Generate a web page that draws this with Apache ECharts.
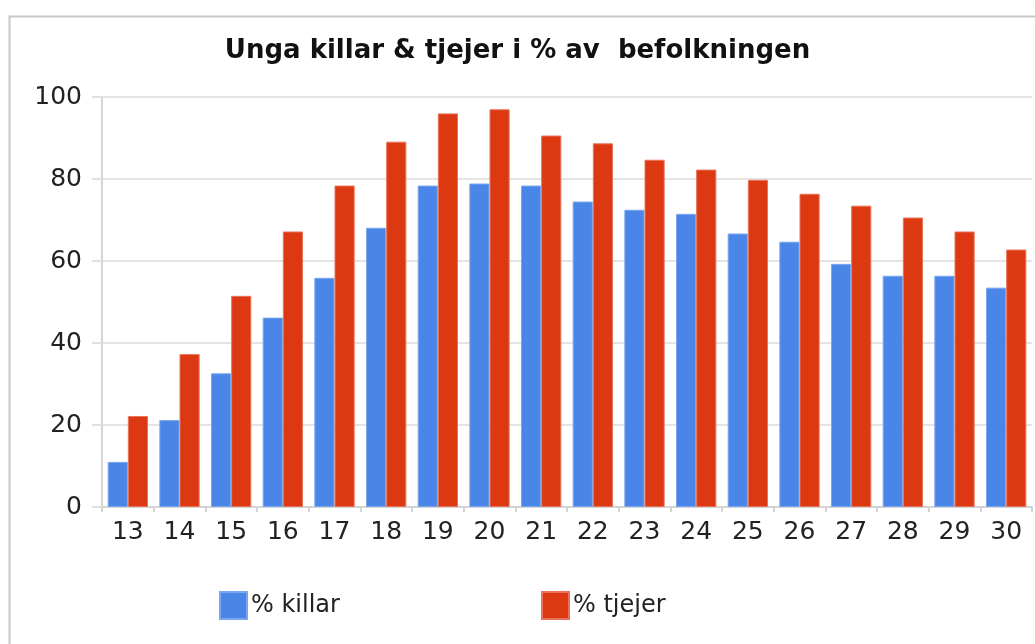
<!DOCTYPE html>
<html>
<head>
<meta charset="utf-8">
<script src="https://cdn.jsdelivr.net/npm/echarts@6/dist/echarts.min.js"></script>
<style>
html,body{margin:0;padding:0;background:#fff;}
#chart{width:1035px;height:644px;}
</style>
</head>
<body>
<div id="chart"></div>
<script>
const titleText = 'Unga killar & tjejer i % av  befolkningen';
const categories = ['13','14','15','16','17','18','19','20','21','22','23','24','25','26','27','28','29','30'];
const killar = [11, 21.2, 32.6, 46.2, 55.9, 68.1, 78.4, 78.9, 78.4, 74.5, 72.5, 71.5, 66.7, 64.7, 59.3, 56.4, 56.4, 53.5];
const tjejer = [22.2, 37.3, 51.5, 67.2, 78.4, 89.1, 96.0, 97.0, 90.6, 88.7, 84.7, 82.3, 79.8, 76.4, 73.5, 70.6, 67.2, 62.8];
const seriesNames = ['% killar', '% tjejer'];

const FONT = 'DejaVu Sans';
const chart = echarts.init(document.getElementById('chart'), null, {renderer: 'canvas'});
chart.setOption({
  animation: false,
  backgroundColor: '#fff',
  graphic: [{
    type: 'rect', left: 7, top: 14, z: -1,
    shape: {width: 1200, height: 800},
    style: {fill: 'none', stroke: '#c8c8c8', lineWidth: 2}
  }],
  title: {
    text: titleText,
    left: 'center',
    top: 33,
    textStyle: {fontFamily: FONT, fontSize: 26, fontWeight: 'bold', color: '#111'}
  },
  legend: [{
    data: [seriesNames[0]],
    icon: 'rect',
    left: 214, top: 586,
    itemWidth: 27, itemHeight: 27, itemGap: 0,
    textStyle: {fontFamily: FONT, fontSize: 24, color: '#222', padding: [0,0,0,-1]}
  }, {
    data: [seriesNames[1]],
    icon: 'rect',
    left: 536, top: 586,
    itemWidth: 27, itemHeight: 27, itemGap: 0,
    textStyle: {fontFamily: FONT, fontSize: 24, color: '#222', padding: [0,0,0,-1]}
  }],
  grid: {left: 102, right: 3, top: 97, bottom: 137, containLabel: false},
  xAxis: {
    type: 'category',
    data: categories,
    axisLine: {lineStyle: {color: '#d4d4d4', width: 2}},
    axisTick: {show: true, length: 5, lineStyle: {color: '#d4d4d4', width: 2}},
    axisLabel: {fontFamily: FONT, fontSize: 25, color: '#222', margin: 13}
  },
  yAxis: {
    type: 'value',
    min: 0, max: 100, interval: 20,
    axisLine: {show: true, lineStyle: {color: '#d4d4d4', width: 2}},
    axisTick: {show: true, length: 10, lineStyle: {color: '#e0e0e0', width: 2}},
    axisLabel: {fontFamily: FONT, fontSize: 25, color: '#222', margin: 20},
    splitLine: {lineStyle: {color: '#e4e4e4', width: 2}}
  },
  series: [{
    name: seriesNames[0],
    type: 'bar',
    data: killar,
    barGap: '0%',
    barCategoryGap: '22%',
    itemStyle: {color: '#4a86e8', borderColor: '#7aa6ee', borderWidth: 1}
  }, {
    name: seriesNames[1],
    type: 'bar',
    data: tjejer,
    barGap: '0%',
    barCategoryGap: '22%',
    itemStyle: {color: '#dc3912', borderColor: '#e8735a', borderWidth: 1}
  }]
});
</script>
</body>
</html>
